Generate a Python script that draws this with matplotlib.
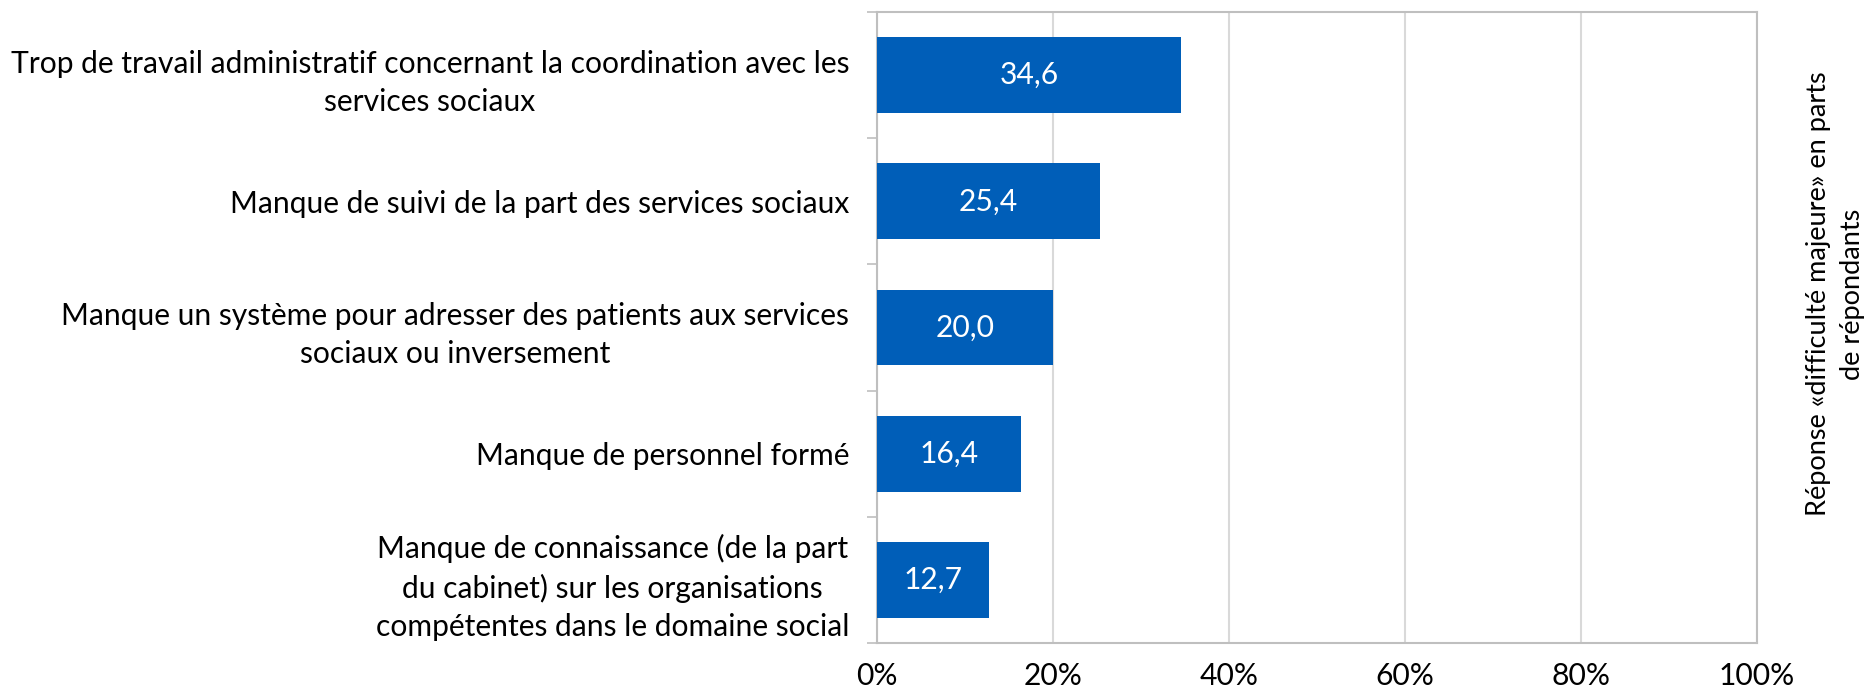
import matplotlib.pyplot as plt
from matplotlib.ticker import FixedLocator, FuncFormatter

# ------------------------------------------------------------
# Data
# ------------------------------------------------------------

CATEGORIES = [
    "Trop de travail administratif concernant la coordination avec les\nservices sociaux",
    "Manque de suivi de la part des services sociaux",
    "Manque un système pour adresser des patients aux services\nsociaux ou inversement",
    "Manque de personnel formé",
    "Manque de connaissance (de la part\ndu cabinet) sur les organisations\ncompétentes dans le domaine social",
]

VALUES = [34.6, 25.4, 20.0, 16.4, 12.7]

X_TICKS = [0, 20, 40, 60, 80, 100]

SIDE_LABEL = "Réponse «difficulté majeure» en parts\nde répondants"

BAR_COLOR = "#005EB8"
GRID_COLOR = "#D9D9D9"
AXIS_COLOR = "#BFBFBF"

# ------------------------------------------------------------
# Figure
# ------------------------------------------------------------

plt.rcParams["font.family"] = ["Lato", "DejaVu Sans"]
FS = 21.6

fig = plt.figure(figsize=(18.69, 6.95), dpi=100)
ax = fig.add_axes([0.4692, 0.0748, 0.4709, 0.9079])

y = list(range(len(CATEGORIES)))
ax.barh(y, VALUES, height=0.6, color=BAR_COLOR, zorder=3)

# Value labels inside the bars
for yi, v in zip(y, VALUES):
    ax.text(v / 2, yi, f"{v:.1f}".replace(".", ","), ha="center", va="center",
            color="white", fontsize=FS, zorder=4)

ax.set_xlim(0, 100)
ax.set_ylim(len(CATEGORIES) - 0.5, -0.5)

ax.set_xticks(X_TICKS)
ax.xaxis.set_major_formatter(FuncFormatter(lambda v, _: f"{v:.0f}%"))
ax.tick_params(axis="x", length=0, labelsize=FS, pad=14)

# Category labels at bar centres, tick marks between categories
ax.set_yticks(y)
ax.set_yticklabels(CATEGORIES, fontsize=FS, multialignment="center",
                   linespacing=1.45)
ax.yaxis.set_minor_locator(FixedLocator([i - 0.5 for i in range(len(CATEGORIES) + 1)]))
ax.tick_params(axis="y", which="major", length=0, pad=20)
ax.tick_params(axis="y", which="minor", length=7, width=1.2, color=AXIS_COLOR)

ax.grid(axis="x", color=GRID_COLOR, linewidth=1.5, zorder=0)
for side in ["top", "right", "bottom", "left"]:
    ax.spines[side].set_color(AXIS_COLOR)
    ax.spines[side].set_linewidth(1.5)

fig.text(0.982, 0.577, SIDE_LABEL, rotation=90, ha="center", va="center",
         multialignment="center", fontsize=19.5, linespacing=1.45)

fig.savefig("out.png", dpi=100)
